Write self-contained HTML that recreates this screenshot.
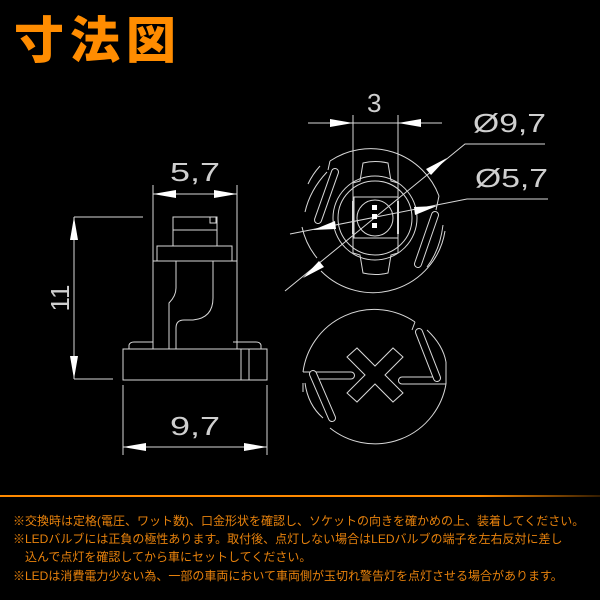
<!DOCTYPE html>
<html><head><meta charset="utf-8"><style>
html,body{margin:0;padding:0;background:#000;width:600px;height:600px;overflow:hidden}
.t{position:absolute;left:13px;font-family:"Liberation Sans","Noto Sans CJK JP",sans-serif;font-size:12px;color:#e8820c;white-space:nowrap;letter-spacing:0px}
</style></head><body>
<svg width="600" height="600" style="position:absolute;left:0;top:0" xmlns="http://www.w3.org/2000/svg">
<defs><linearGradient id="g" x1="0" x2="1"><stop offset="0" stop-color="#ff8a00"/><stop offset="0.8" stop-color="#ff8a00"/><stop offset="1" stop-color="#ff8a00" stop-opacity="0.2"/></linearGradient></defs>
<text x="14" y="58" font-family="Noto Sans CJK JP, sans-serif" font-weight="900" font-size="50" fill="#ff8c00" textLength="162">寸法図</text>
<rect x="0" y="495" width="600" height="2" fill="url(#g)"/>
<g fill="none" stroke="#d8d8d8" stroke-width="1">
<!-- side view -->
<line x1="74" y1="217" x2="143" y2="217"/><line x1="74" y1="379" x2="113" y2="379"/>
<line x1="74" y1="217" x2="74" y2="379"/>
<line x1="153" y1="185" x2="153" y2="349"/><line x1="237" y1="185" x2="237" y2="349"/>
<line x1="153" y1="194" x2="237" y2="194"/>
<rect x="173" y="217" width="44" height="29"/><rect x="210" y="217" width="6" height="6"/>
<line x1="173" y1="230" x2="217" y2="230"/>
<rect x="157" y="246" width="75" height="15"/>
<line x1="153" y1="261" x2="237" y2="261"/>
<path d="M176 261 V288 Q176 296 169 303 V349"/>
<path d="M213 261 V298 Q213 318 193 320 H184 Q176 320 176 328 V349"/>
<rect x="123" y="349" width="144" height="31"/>
<line x1="241" y1="349" x2="241" y2="380"/><line x1="249" y1="349" x2="249" y2="380"/>
<path d="M129 349 V345 Q130 342 134 342 H153"/>
<path d="M233 342 H256 Q260 342 261 345 V349"/>
<line x1="123" y1="385" x2="123" y2="455"/><line x1="267" y1="385" x2="267" y2="455"/>
<line x1="123" y1="447" x2="267" y2="447"/>
<!-- top circle -->
<line x1="353" y1="115" x2="353" y2="238"/><line x1="398" y1="115" x2="398" y2="238"/>
<line x1="308" y1="123" x2="442" y2="123"/>
<path d="M330 161 A73 73 0 0 1 439 196 M445 231 A73 73 0 0 1 321 271 M317 258 A73 73 0 0 1 302 227 M308 184 A73 73 0 0 1 320 166"/>
<path d="M330 161 L328 170 M439 196 L436 210"/>
<path d="M327 172 Q310 190 305 212 M443 225 Q440 250 427 267"/>
<circle cx="375" cy="218" r="42"/><circle cx="375" cy="218" r="37"/><circle cx="375" cy="218" r="18"/>
<path d="M360 181 L363 163 Q375 160 388 163 L391 181 L398 183 V253 L391 255 L388 273 Q375 276 363 273 L360 255 L353 253 V183 Z"/>
<rect x="354" y="197" width="44" height="41"/>
<line x1="353" y1="201" x2="353" y2="234" stroke-width="2"/><line x1="398" y1="201" x2="398" y2="234" stroke-width="2"/>
<polyline points="545,144 465,144 285,291"/>
<polyline points="548,199 467,199 290,234"/>
<!-- bottom circle -->
<path d="M415 322 A72 72 0 0 0 303 372 M303 372 H351 A3.5 3.5 0 0 1 351 379 H316 M446 384 A72 72 0 0 1 330 428 M446 384 H402 A3.5 3.5 0 0 1 402 377 H438"/>
<path d="M415 322 L412 330 M446 362 V384 M303 383 V392"/>
<path d="M427 330 Q443 345 446 362 M305 383 Q308 405 323 418"/>
<path d="M347 357 L357 348 L375 366 L393 348 L403 357 L385 375 L403 393 L393 402 L375 384 L357 402 L347 393 L365 375 Z"/>
</g>
<g stroke-linecap="round">
<line x1="335" y1="172" x2="318" y2="220" stroke="#d8d8d8" stroke-width="8"/>
<line x1="335" y1="172" x2="318" y2="220" stroke="#000" stroke-width="6"/>
<line x1="435" y1="215" x2="418" y2="264" stroke="#d8d8d8" stroke-width="8"/>
<line x1="435" y1="215" x2="418" y2="264" stroke="#000" stroke-width="6"/>
<line x1="419" y1="332" x2="437" y2="378" stroke="#d8d8d8" stroke-width="8"/>
<line x1="419" y1="332" x2="437" y2="378" stroke="#000" stroke-width="6"/>
<line x1="313" y1="374" x2="332" y2="418" stroke="#d8d8d8" stroke-width="8"/>
<line x1="313" y1="374" x2="332" y2="418" stroke="#000" stroke-width="6"/>
</g>
<g fill="#fff">
<polygon points="74,217 70,240 78,240"/><polygon points="74,379 70,356 78,356"/>
<polygon points="153,194 176,190 176,198"/><polygon points="237,194 214,190 214,198"/>
<polygon points="123,447 146,443 146,451"/><polygon points="267,447 244,443 244,451"/>
<polygon points="353,123 330,119 330,127"/><polygon points="398,123 421,119 421,127"/>
<polygon points="447,158 426,169 431,175"/><polygon points="303,278 324,267 319,261"/>
<polygon points="437,206 414,207 415,215"/><polygon points="313,230 336,229 335,221"/>
<rect x="372" y="205" width="5" height="5"/><rect x="372" y="214" width="5" height="5"/><rect x="372" y="223" width="5" height="5"/>
</g>
<g font-family="Liberation Sans, sans-serif" fill="#cfcfcf" font-size="26">
<text x="170" y="181" textLength="50" lengthAdjust="spacingAndGlyphs">5,7</text>
<text x="367" y="112">3</text>
<text x="473" y="132" textLength="73" lengthAdjust="spacingAndGlyphs">Ø9,7</text>
<text x="475" y="187" textLength="73" lengthAdjust="spacingAndGlyphs">Ø5,7</text>
<text x="170" y="435" textLength="50" lengthAdjust="spacingAndGlyphs">9,7</text>
<text transform="translate(69,298) rotate(-90)" text-anchor="middle">11</text>
</g>
</svg>
<div class="t" style="top:512px">※交換時は定格(電圧、ワット数)、口金形状を確認し、ソケットの向きを確かめの上、装着してください。</div>
<div class="t" style="top:530px">※LEDバルブには正負の極性あります。取付後、点灯しない場合はLEDバルブの端子を左右反対に差し</div>
<div class="t" style="top:548px;left:25px">込んで点灯を確認してから車にセットしてください。</div>
<div class="t" style="top:567px">※LEDは消費電力少ない為、一部の車両において車両側が玉切れ警告灯を点灯させる場合があります。</div>
</body></html>
